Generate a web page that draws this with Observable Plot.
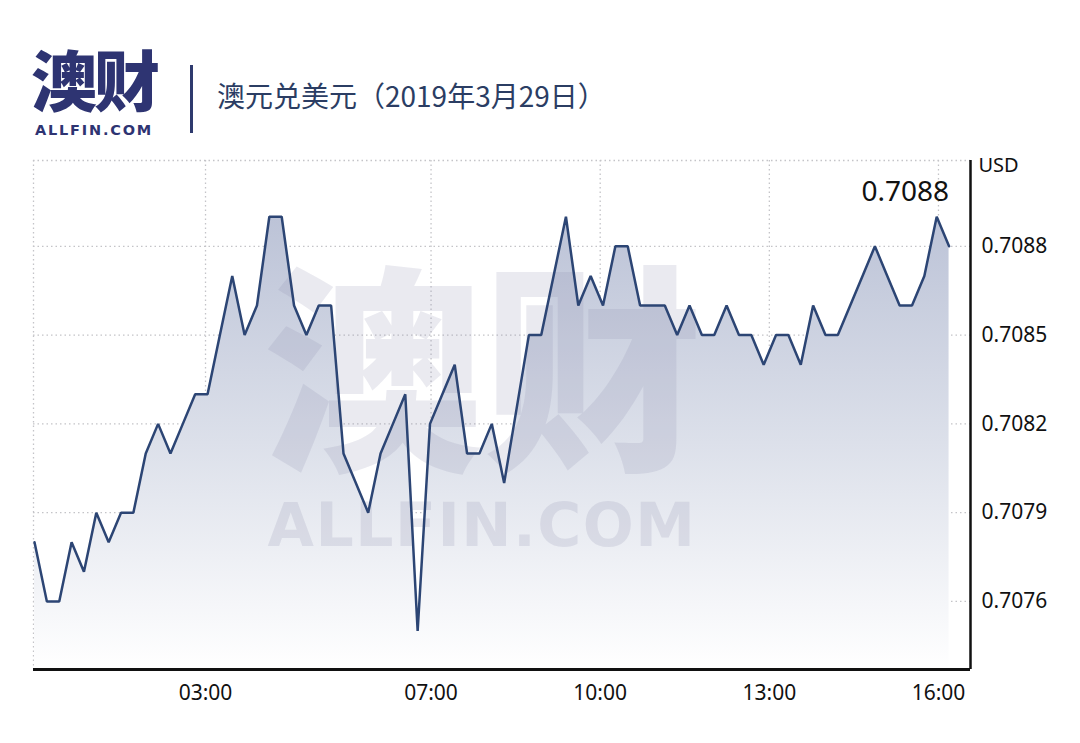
<!DOCTYPE html>
<html>
<head>
<meta charset="utf-8">
<script src="https://cdn.jsdelivr.net/npm/d3@7"></script>
<script src="https://cdn.jsdelivr.net/npm/@observablehq/plot@0.6"></script>
<style>
  html, body { margin: 0; padding: 0; background: #fff; }
  #page { position: relative; width: 1080px; height: 743px; overflow: hidden; }
  #header { position: relative; width: 1080px; height: 150px; }
  #logo { position: absolute; left: 31px; top: 50px; font-family: "Liberation Sans", "Noto Sans CJK SC", sans-serif; font-weight: 900; font-size: 66px; line-height: 1; color: #2e3472; letter-spacing: -3px; }
  #logo-en { position: absolute; left: 35px; top: 123px; font-family: "DejaVu Sans", sans-serif; font-weight: bold; font-size: 14.5px; line-height: 1; color: #2e3472; letter-spacing: 1.8px; }
  #bar { position: absolute; left: 190px; top: 65px; width: 3px; height: 68px; background: #2e3a6e; }
  #title { position: absolute; left: 217px; top: 79px; font-family: "Noto Sans CJK SC", sans-serif; font-size: 28px; line-height: 1.2; color: #2b3d63; }
</style>
</head>
<body>
<div id="page">
  <div id="header">
    <div id="logo">澳财</div>
    <div id="logo-en">ALLFIN.COM</div>
    <div id="bar"></div>
    <div id="title">澳元兑美元（2019年3月29日）</div>
  </div>
  <div id="chart"></div>
</div>
<script>
// ---- data ----
const rates = [
  0.7078, 0.7076, 0.7076, 0.7078, 0.7077, 0.7079, 0.7078, 0.7079, 0.7079, 0.7081,
  0.7082, 0.7081, 0.7082, 0.7083, 0.7083, 0.7085, 0.7087, 0.7085, 0.7086, 0.7089,
  0.7089, 0.7086, 0.7085, 0.7086, 0.7086, 0.7081, 0.7080, 0.7079, 0.7081, 0.7082,
  0.7083, 0.7075, 0.7082, 0.7083, 0.7084, 0.7081, 0.7081, 0.7082, 0.7080, 0.70825,
  0.7085, 0.7085, 0.7087, 0.7089, 0.7086, 0.7087, 0.7086, 0.7088, 0.7088, 0.7086,
  0.7086, 0.7086, 0.7085, 0.7086, 0.7085, 0.7085, 0.7086, 0.7085, 0.7085, 0.7084,
  0.7085, 0.7085, 0.7084, 0.7086, 0.7085, 0.7085, 0.7086, 0.7087, 0.7088, 0.7087,
  0.7086, 0.7086, 0.7087, 0.7089, 0.7088
];
const START_HOUR = -0.033;   // first quote, hours after midnight
const STEP_HOUR = 0.2192;    // sampling interval in hours
const xTickHours = [3, 7, 10, 13, 16];
const xTickLabels = ["03:00", "07:00", "10:00", "13:00", "16:00"];
const yTicks = [0.7076, 0.7079, 0.7082, 0.7085, 0.7088];
const xDomain = [-0.051, 16.568];
const yDomain = [0.70737, 0.70909];
const unitLabel = "USD";
const lastLabel = "0.7088";
const watermarkCN = "澳财";
const watermarkEN = "ALLFIN.COM";

const data = rates.map((v, i) => ({ h: START_HOUR + i * STEP_HOUR, v }));
const last = data[data.length - 1];

const gridStyle = { stroke: "#c4c4c8", strokeWidth: 1.3, strokeDasharray: "1.5,3" };

const chart = Plot.plot({
  width: 1080,
  height: 593,
  marginLeft: 33,
  marginRight: 110,
  marginTop: 10,
  marginBottom: 74,
  style: { fontFamily: "'Noto Sans', sans-serif", fontSize: "21px", color: "#111", background: "transparent", overflow: "visible" },
  x: {
    domain: xDomain,
    ticks: xTickHours,
    tickFormat: (d) => xTickLabels[xTickHours.indexOf(d)],
    tickSize: 0,
    tickPadding: 16,
    label: null
  },
  y: {
    domain: yDomain,
    axis: "right",
    ticks: yTicks,
    tickFormat: d3.format(".4f"),
    tickSize: 0,
    tickPadding: 11,
    label: null
  },
  marks: [
    // dotted grid
    Plot.ruleY(yTicks, gridStyle),
    Plot.ruleY([yDomain[1]], gridStyle),
    Plot.ruleX(xTickHours, gridStyle),
    Plot.ruleX([xDomain[0]], gridStyle),
    // filled area
    Plot.areaY(data, { x: "h", y1: yDomain[0], y2: "v", fill: "url(#audGrad)" }),
    // watermark
    Plot.text([watermarkCN], { text: (d) => d, frameAnchor: "middle", dx: -19, dy: -31, fontSize: 220, fontWeight: 900, fontFamily: "'Liberation Sans', 'Noto Sans CJK SC', sans-serif", fill: "#8c8caa", fillOpacity: 0.18 }),
    Plot.text([watermarkEN], { text: (d) => d, frameAnchor: "middle", dx: -20, dy: 112, fontSize: 60, fontWeight: "bold", fontFamily: "'DejaVu Sans', sans-serif", fill: "#8c8caa", fillOpacity: 0.19 }),
    // line
    Plot.lineY(data, { x: "h", y: "v", stroke: "#2c4574", strokeWidth: 2.5, strokeLinejoin: "miter" }),
    // axes lines
    Plot.ruleX([xDomain[1]], { stroke: "#111", strokeWidth: 2.5 }),
    Plot.ruleY([yDomain[0]], { stroke: "#111", strokeWidth: 3 }),
    // unit label and last-value label
    Plot.text([unitLabel], { text: (d) => d, frameAnchor: "top-right", dx: 8, dy: -3, textAnchor: "start", fontSize: 20, fill: "#111" }),
    Plot.text([last], { x: "h", text: () => lastLabel, frameAnchor: "top", dy: 21, textAnchor: "end", fontSize: 28, fill: "#111" })
  ]
});

// gradient definition for the area
const ns = "http://www.w3.org/2000/svg";
const defs = document.createElementNS(ns, "defs");
const grad = document.createElementNS(ns, "linearGradient");
grad.setAttribute("id", "audGrad");
grad.setAttribute("x1", "0"); grad.setAttribute("y1", "0");
grad.setAttribute("x2", "0"); grad.setAttribute("y2", "1");
[["0", "#bcc3d7"], ["0.5", "#dce0ea"], ["1", "#ffffff"]].forEach(([o, c]) => {
  const s = document.createElementNS(ns, "stop");
  s.setAttribute("offset", o);
  s.setAttribute("stop-color", c);
  grad.appendChild(s);
});
defs.appendChild(grad);
chart.insertBefore(defs, chart.firstChild);

// letter spacing for the watermark english text
chart.querySelectorAll("text").forEach((t) => {
  if (t.textContent === watermarkEN) t.setAttribute("letter-spacing", "1.5");
});

document.getElementById("chart").appendChild(chart);
</script>
</body>
</html>
